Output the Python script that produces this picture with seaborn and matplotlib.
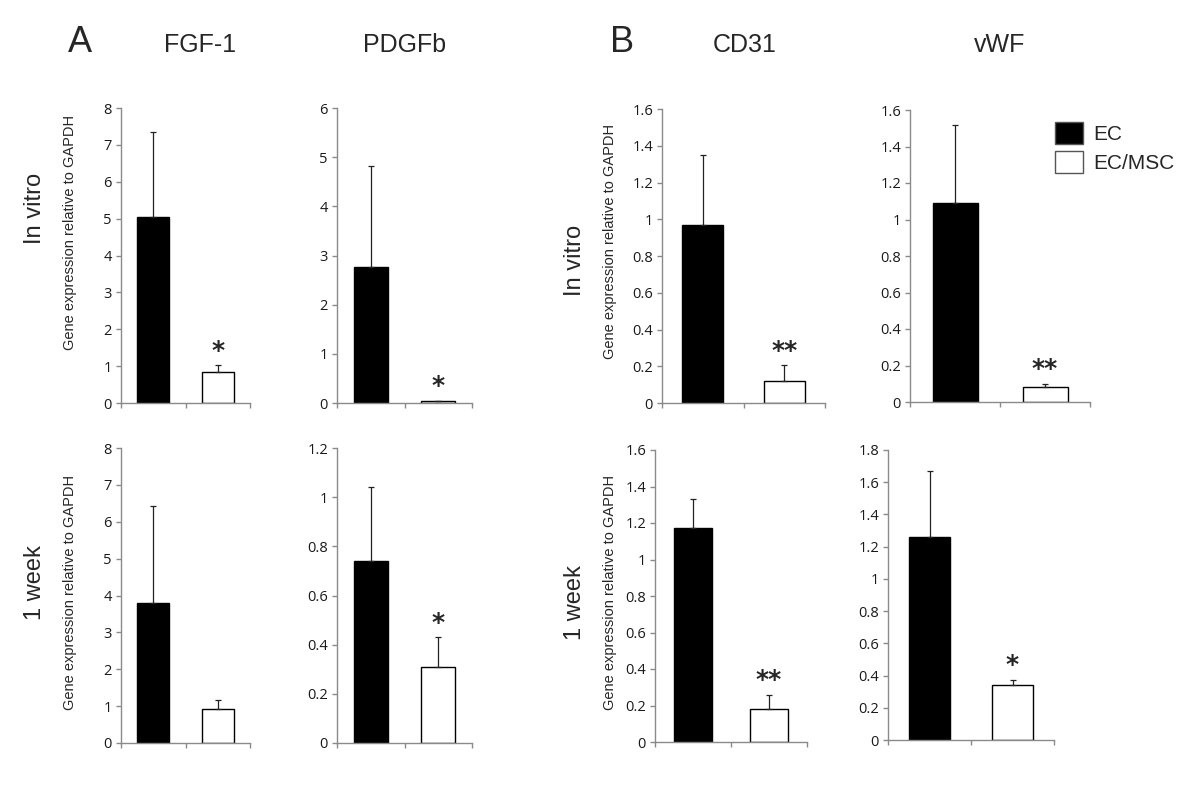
import matplotlib
matplotlib.use("Agg")
import matplotlib.pyplot as plt
from matplotlib.patches import Patch
import seaborn as sns
import pandas as pd

sns.set_style("white")
plt.rcParams['font.family'] = ['Liberation Sans', 'DejaVu Sans']

groups = ["EC", "EC/MSC"]
genes = ["FGF-1", "PDGFb", "CD31", "vWF"]
rows = ["In vitro", "1 week"]

# means and upper error (top of error bar minus mean)
invitro_mean = {"FGF-1": [5.05, 0.83], "PDGFb": [2.77, 0.04], "CD31": [0.97, 0.12], "vWF": [1.09, 0.08]}
invitro_err = {"FGF-1": [2.30, 0.19], "PDGFb": [2.06, 0.01], "CD31": [0.38, 0.085], "vWF": [0.43, 0.02]}
week_mean = {"FGF-1": [3.80, 0.92], "PDGFb": [0.74, 0.31], "CD31": [1.17, 0.18], "vWF": [1.26, 0.34]}
week_err = {"FGF-1": [2.62, 0.25], "PDGFb": [0.30, 0.12], "CD31": [0.16, 0.08], "vWF": [0.41, 0.035]}

invitro_sig = {"FGF-1": "*", "PDGFb": "*", "CD31": "**", "vWF": "**"}
week_sig = {"FGF-1": "", "PDGFb": "*", "CD31": "**", "vWF": "*"}

invitro_ymax = {"FGF-1": 8, "PDGFb": 6, "CD31": 1.6, "vWF": 1.6}
invitro_step = {"FGF-1": 1, "PDGFb": 1, "CD31": 0.2, "vWF": 0.2}
week_ymax = {"FGF-1": 8, "PDGFb": 1.2, "CD31": 1.6, "vWF": 1.8}
week_step = {"FGF-1": 1, "PDGFb": 0.2, "CD31": 0.2, "vWF": 0.2}

W, H = 1200, 799
fig = plt.figure(figsize=(12, 7.99), dpi=100)

# axes pixel boxes: (left, top, right, bottom)
boxes = {
    (0, "FGF-1"): (121, 108, 250, 403),
    (0, "PDGFb"): (337, 108, 472, 403),
    (0, "CD31"): (662, 109, 825, 403),
    (0, "vWF"): (910, 110, 1090, 402),
    (1, "FGF-1"): (121, 448, 250, 743),
    (1, "PDGFb"): (337, 448, 472, 743),
    (1, "CD31"): (655, 450, 807, 742),
    (1, "vWF"): (888, 450, 1054, 740),
}

palette = {"EC": "black", "EC/MSC": "white"}
axis_gray = "#8a8a8a"

def fmt(v):
    s = ("%.1f" % v)
    if s.endswith(".0"):
        s = s[:-2]
    return s

for r in range(2):
    means = invitro_mean if r == 0 else week_mean
    errs = invitro_err if r == 0 else week_err
    sigs = invitro_sig if r == 0 else week_sig
    ymaxs = invitro_ymax if r == 0 else week_ymax
    steps = invitro_step if r == 0 else week_step
    for g in genes:
        l, t, rr, b = boxes[(r, g)]
        ax = fig.add_axes([l / W, 1 - b / H, (rr - l) / W, (b - t) / H])
        df = pd.DataFrame({"group": groups, "value": means[g]})
        sns.barplot(data=df, x="group", y="value", hue="group", palette=palette,
                    order=groups, hue_order=groups, width=0.5, edgecolor="black",
                    linewidth=1.0, legend=False, ax=ax)
        ax.errorbar([0, 1], means[g], yerr=[[0, 0], errs[g]], fmt="none",
                    ecolor="#222222", elinewidth=0.9, capsize=2.5, capthick=0.9, zorder=1)
        ax.set_xlim(-0.5, 1.5)
        ax.set_ylim(0, ymaxs[g])
        n = int(round(ymaxs[g] / steps[g]))
        ticks = [round(i * steps[g], 2) for i in range(n + 1)]
        ax.set_yticks(ticks)
        ax.set_yticklabels([fmt(v) for v in ticks], fontfamily="Open Sans", fontsize=10.5,
                           color="#1a1a1a")
        ax.set_xticks([-0.5, 0.5, 1.5])
        ax.set_xticklabels([])
        ax.set_xlabel("")
        ax.set_ylabel("")
        for side in ["top", "right"]:
            ax.spines[side].set_visible(False)
        for side in ["left", "bottom"]:
            ax.spines[side].set_color(axis_gray)
            ax.spines[side].set_linewidth(1.0)
        ax.tick_params(axis="both", direction="out", length=3.5, width=1.0,
                       color=axis_gray, left=True, bottom=True, pad=3)
        ax.patch.set_alpha(0)
        if sigs[g]:
            top = means[g][1] + errs[g][1]
            ax.annotate(sigs[g], xy=(1, top), xytext=(0, 2), textcoords="offset points",
                        ha="center", va="bottom", fontsize=18, fontweight="bold",
                        fontfamily="DejaVu Sans")

# column titles
titles_px = {"FGF-1": (200, 45), "PDGFb": (405, 45), "CD31": (745, 45), "vWF": (1000, 45)}
for g, (x, y) in titles_px.items():
    fig.text(x / W, 1 - y / H, g, ha="center", va="center", fontsize=18)

# panel letters
fig.text(80 / W, 1 - 43 / H, "A", ha="center", va="center", fontsize=26)
fig.text(622 / W, 1 - 43 / H, "B", ha="center", va="center", fontsize=26)

# row labels
fig.text(35 / W, 1 - 208 / H, rows[0], rotation=90, ha="center", va="center", fontsize=17)
fig.text(35 / W, 1 - 583 / H, rows[1], rotation=90, ha="center", va="center", fontsize=17)
fig.text(575 / W, 1 - 260 / H, rows[0], rotation=90, ha="center", va="center", fontsize=17)
fig.text(575 / W, 1 - 603 / H, rows[1], rotation=90, ha="center", va="center", fontsize=17)

# y-axis labels
ylab = "Gene expression relative to GAPDH"
fig.text(70 / W, 1 - 232 / H, ylab, rotation=90, ha="center", va="center", fontsize=10.5)
fig.text(70 / W, 1 - 592 / H, ylab, rotation=90, ha="center", va="center", fontsize=10.5)
fig.text(610 / W, 1 - 241 / H, ylab, rotation=90, ha="center", va="center", fontsize=10.5)
fig.text(610 / W, 1 - 592 / H, ylab, rotation=90, ha="center", va="center", fontsize=10.5)

# legend
handles = [Patch(facecolor=palette[gname], edgecolor="#555555", linewidth=1.0, label=gname)
           for gname in groups]
fig.legend(handles=handles, loc="upper left", bbox_to_anchor=(1055 / W, 1 - 122 / H),
           frameon=False, fontsize=15, handlelength=1.35, handleheight=1.25,
           handletextpad=0.5, labelspacing=0.35, borderaxespad=0, borderpad=0)

fig.savefig("out.png", dpi=100, facecolor="white")
